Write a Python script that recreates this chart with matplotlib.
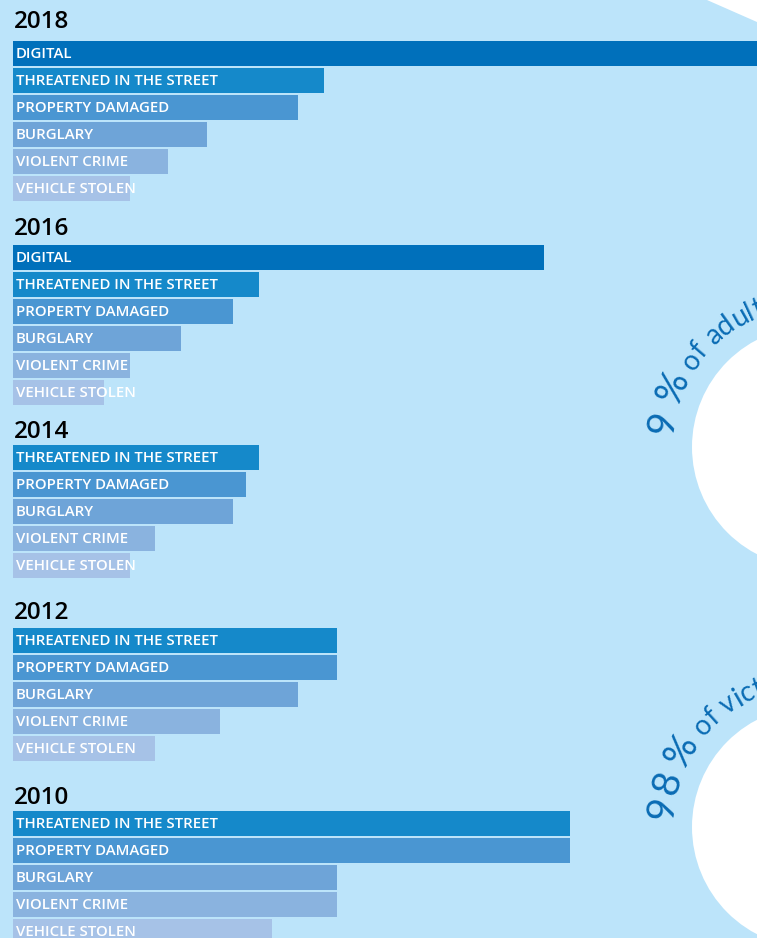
import numpy as np
import matplotlib
matplotlib.use('Agg')
import matplotlib.pyplot as plt
from matplotlib.patches import Circle, Polygon
from matplotlib.font_manager import FontProperties
from matplotlib.textpath import TextToPath

# data (bar lengths, arbitrary units)
years = ['2018', '2016', '2014', '2012', '2010']
categories = ['DIGITAL', 'THREATENED IN THE STREET', 'PROPERTY DAMAGED',
              'BURGLARY', 'VIOLENT CRIME', 'VEHICLE STOLEN']
digital = [58, 41, None, None, None]
threatened = [24, 19, 19, 25, 43]
property_damaged = [22, 17, 18, 25, 43]
burglary = [15, 13, 17, 22, 25]
violent = [12, 9, 11, 16, 25]
vehicle = [9, 7, 9, 11, 20]
series = [digital, threatened, property_damaged, burglary, violent, vehicle]

colors = ['#0070bb', '#1589ca', '#4a96d2', '#6ea4d8', '#8ab3df', '#a6c2e7']
bg = '#bce4fa'

W, H = 757, 938
PX = 12.95      # pixels per unit
X0 = 13         # left edge of bars in px
group_top = [41, 245, 445, 628, 811]
head_base = [28, 235, 438, 619, 804]
ROW = 27
BAR_H = 25

fig = plt.figure(figsize=(W / 100, H / 100), dpi=100, facecolor=bg)

# decoration layer, pixel coordinates
deco = fig.add_axes([0, 0, 1, 1])
deco.set_xlim(0, W)
deco.set_ylim(H, 0)
deco.axis('off')
deco.add_patch(Polygon([(707, 0), (757, 22), (760, 0)], closed=True, fc='white', ec='none'))
deco.add_patch(Circle((813, 447), 121, fc='white', ec='none'))
deco.add_patch(Circle((813, 827), 121, fc='white', ec='none'))

ttp = TextToPath()


def advance(ch, prop):
    w1 = ttp.get_text_width_height_descent('x' + ch + 'x', prop, ismath=False)[0]
    w0 = ttp.get_text_width_height_descent('xx', prop, ismath=False)[0]
    return (w1 - w0) * 100 / 72


def arc_text(ax, parts, cx, cy, r, start_deg, color):
    th = np.radians(start_deg)
    for s, size, gap in parts:
        prop = FontProperties(family='Lato', size=size)
        for ch in s:
            adv = advance(ch, prop) * (gap if ch == ' ' else 1.0)
            a = th - adv / 2 / r
            th -= adv / r
            x = cx + r * np.cos(a)
            if ch == ' ' or x > W + 8:
                continue
            ax.text(x, cy - r * np.sin(a), ch, fontproperties=prop,
                    color=color, rotation=np.degrees(a) - 90, rotation_mode='anchor',
                    ha='center', va='baseline')


arc_text(deco, [('9 %', 28, 0.6), (' of adults', 20, 1.0)], 813, 447, 141, 175, '#0a6cb4')
arc_text(deco, [('98 %', 28, 0.6), (' of victims', 20, 1.0)], 813, 827, 141, 177, '#0a6cb4')

# bars layer
ax = fig.add_axes([0, 0, 1, 1])
ax.patch.set_alpha(0)
ax.set_xlim(-X0 / PX, (W - X0) / PX)
ax.set_ylim(H, 0)
ax.axis('off')

for g, year in enumerate(years):
    ax.text(14 / PX - X0 / PX, head_base[g], year, fontsize=17.5, family='Open Sans',
            weight=600, color='black', va='baseline', ha='left')
    row = 0
    for k, cat in enumerate(categories):
        v = series[k][g]
        if v is None:
            continue
        yc = group_top[g] + row * ROW + BAR_H / 2
        ax.barh(yc, v, height=BAR_H, left=0, color=colors[k], edgecolor='none')
        ax.text(3 / PX, yc + 0.5, cat, fontsize=10.8, family='Open Sans', weight=600,
                color='white', va='center', ha='left')
        row += 1

fig.savefig('out.png', dpi=100, facecolor=bg)
